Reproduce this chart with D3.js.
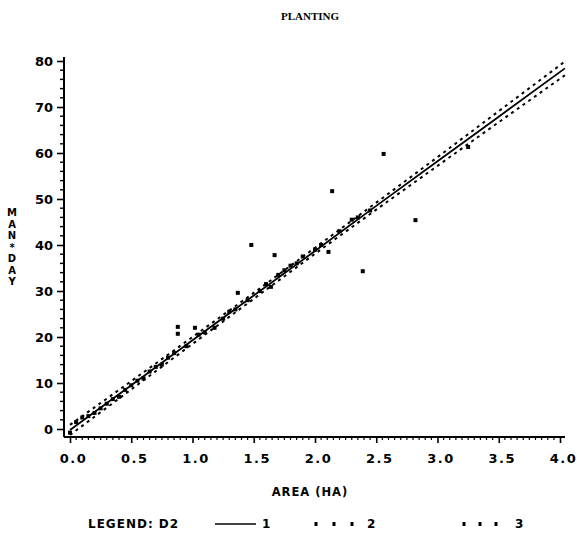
<!DOCTYPE html>
<html><head><meta charset="utf-8">
<script src="https://cdn.jsdelivr.net/npm/d3@7"></script>
<style>body{margin:0;background:#fff}svg{display:block}text{font-family:"DejaVu Sans",sans-serif;fill:#000}</style>
</head><body><svg id="c" width="577" height="540"></svg>
<script>
const title = "PLANTING";
const xLabel = "AREA (HA)";
const yLabel = "MAN*DAY";
const xTicks = [0, 0.5, 1.0, 1.5, 2.0, 2.5, 3.0, 3.5, 4.0];
const yTicks = [0, 10, 20, 30, 40, 50, 60, 70, 80];
// series 1: fitted line, 2: upper limit, 3: lower limit
const fitArea  = [0, 0.5, 1.0, 1.5, 2.0, 2.5, 3.0, 3.5, 4.04];
const fitMan   = [-0.2, 9.5, 19.3, 29.0, 38.7, 48.5, 58.2, 67.9, 78.4];
const upperMan = [0.9, 10.4, 20.0, 29.6, 39.4, 49.2, 59.1, 69.1, 79.9];
const lowerMan = [-1.3, 8.6, 18.5, 28.3, 38.1, 47.7, 57.2, 66.7, 76.9];
// observed points
const obsArea = [0.0, 0.05, 0.1, 0.15, 0.2, 0.25, 0.3, 0.35, 0.4, 0.45, 0.5, 0.55, 0.6, 0.65, 0.7, 0.75, 0.8, 0.85, 0.88, 0.88, 0.95, 1.02, 1.05, 1.1, 1.18, 1.25, 1.3, 1.35, 1.37, 1.45, 1.48, 1.55, 1.6, 1.64, 1.67, 1.7, 1.75, 1.8, 1.85, 1.9, 2.0, 2.05, 2.11, 2.14, 2.2, 2.3, 2.35, 2.39, 2.45, 2.56, 2.82, 3.25];
const obsMan  = [-0.8, 1.5, 2.5, 2.8, 3.5, 4.5, 5.5, 6.5, 7.0, 8.5, 9.5, 10.5, 11.0, 12.5, 13.5, 14.0, 15.5, 16.5, 22.2, 20.7, 18.0, 22.0, 20.5, 21.0, 22.0, 24.0, 25.5, 26.0, 29.6, 28.0, 40.0, 30.0, 31.5, 30.9, 37.8, 33.5, 34.5, 35.5, 36.0, 37.5, 39.0, 40.0, 38.5, 51.7, 43.0, 45.5, 46.0, 34.3, 47.5, 59.8, 45.4, 61.3];
const legendTitle = "LEGEND: D2";
const legendLabels = ["1", "2", "3"];

const svg = d3.select("#c");
const x = d3.scaleLinear().domain([0, 4]).range([70, 560]);
const y = d3.scaleLinear().domain([0, 80]).range([429, 61]);
const axL = 64, axR = 565, axT = 57, axB = 437;

svg.append("text").attr("x", 310).attr("y", 20).attr("text-anchor", "middle")
  .style("font-family", "'Liberation Serif',serif").style("font-size", "11px").style("font-weight", "bold").text(title);

// axes lines
svg.append("line").attr("x1", axL).attr("x2", axL).attr("y1", axT).attr("y2", axB).attr("stroke", "#000").attr("stroke-width", 2);
svg.append("line").attr("x1", axL).attr("x2", axR).attr("y1", axB).attr("y2", axB).attr("stroke", "#000").attr("stroke-width", 2);

// y axis ticks
const yAxis = d3.axisLeft(y).tickValues(yTicks).tickFormat(d3.format("d")).tickSize(7).tickSizeOuter(0);
const gy = svg.append("g").attr("transform", `translate(${axL},0)`).call(yAxis);
gy.select(".domain").remove();
gy.selectAll("line").attr("stroke-width", 1.6);
gy.selectAll("text").style("font-size", "13px").style("font-weight", "bold").attr("dx", "-1");
const yMinor = d3.range(0, 81, 2).filter(v => v % 10 !== 0);
svg.append("g").selectAll("line").data(yMinor).join("line")
  .attr("x1", axL - 4).attr("x2", axL).attr("y1", d => y(d)).attr("y2", d => y(d)).attr("stroke", "#000").attr("stroke-width", 1.4);

// x axis ticks
const xAxis = d3.axisBottom(x).tickValues(xTicks).tickFormat(d3.format(".1f")).tickSize(6).tickSizeOuter(0);
const gx = svg.append("g").attr("transform", `translate(0,${axB})`).call(xAxis);
gx.select(".domain").remove();
gx.selectAll("line").attr("stroke-width", 1.6);
gx.selectAll("text").style("font-size", "13px").style("font-weight", "bold").style("letter-spacing", "1.5px").attr("dx", "3").attr("dy", "1.3em");
const xMinor = d3.range(0, 81).map(i => i * 0.05).filter((v, i) => i % 10 !== 0);
svg.append("g").selectAll("line").data(xMinor).join("line")
  .attr("x1", d => x(d)).attr("x2", d => x(d)).attr("y1", axB).attr("y2", axB + 3).attr("stroke", "#000").attr("stroke-width", 1.2);

// axis labels
svg.append("text").attr("x", 310).attr("y", 496).attr("text-anchor", "middle")
  .style("font-size", "11.5px").style("font-weight", "bold").style("letter-spacing", "1px").text(xLabel);
svg.append("g").selectAll("text").data(yLabel.split("")).join("text")
  .attr("x", 12).attr("y", (d, i) => 216 + i * 11.5).attr("text-anchor", "middle")
  .style("font-size", "10px").style("font-weight", "bold").text(d => d);

// lines
const line = d3.line().x(d => x(d[0])).y(d => y(d[1]));
const fit = fitArea.map((a, i) => [a, fitMan[i]]);
const up = fitArea.map((a, i) => [a, upperMan[i]]);
const lo = fitArea.map((a, i) => [a, lowerMan[i]]);
svg.append("path").attr("d", line(up)).attr("fill", "none").attr("stroke", "#000").attr("stroke-width", 2).attr("stroke-dasharray", "3,4");
svg.append("path").attr("d", line(lo)).attr("fill", "none").attr("stroke", "#000").attr("stroke-width", 2).attr("stroke-dasharray", "3,4");
svg.append("path").attr("d", line(fit)).attr("fill", "none").attr("stroke", "#000").attr("stroke-width", 1.8);

// observed points
svg.append("g").selectAll("rect").data(obsArea.map((a, i) => [a, obsMan[i]])).join("rect")
  .attr("x", d => x(d[0]) - 2).attr("y", d => y(d[1]) - 2).attr("width", 4).attr("height", 4).attr("fill", "#000");

// legend
const ly = 528;
svg.append("text").attr("x", 88).attr("y", ly).style("font-size", "12px").style("font-weight", "bold").style("letter-spacing", "1px").text(legendTitle);
svg.append("line").attr("x1", 215).attr("x2", 256).attr("y1", ly - 4).attr("y2", ly - 4).attr("stroke", "#000").attr("stroke-width", 1.6);
svg.append("text").attr("x", 262).attr("y", ly).style("font-size", "12px").style("font-weight", "bold").text(legendLabels[0]);
[[316, 334, 352], [464, 480, 496]].forEach((xs, k) => {
  svg.append("g").selectAll("rect").data(xs).join("rect")
    .attr("x", d => d - 1.5).attr("y", ly - 6).attr("width", 3).attr("height", 4).attr("fill", "#000");
  svg.append("text").attr("x", k === 0 ? 367 : 515).attr("y", ly).style("font-size", "12px").style("font-weight", "bold").text(legendLabels[k + 1]);
});
</script></body></html>
